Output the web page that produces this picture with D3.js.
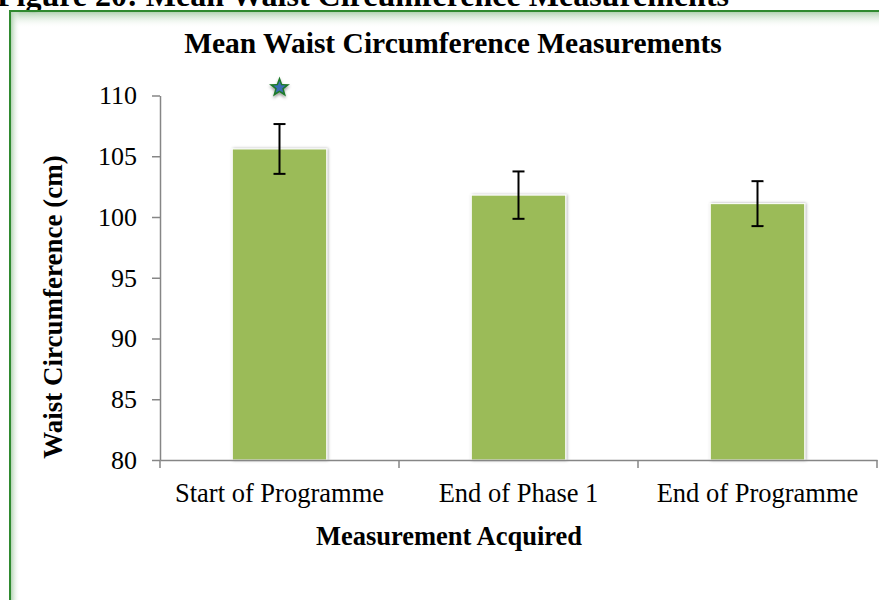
<!DOCTYPE html>
<html>
<head>
<meta charset="utf-8">
<script src="https://cdn.jsdelivr.net/npm/d3@7"></script>
<style>
  body { margin: 0; background: #fff; }
  svg { display: block; font-family: "Liberation Serif", "Times New Roman", serif; }
</style>
</head>
<body>
<svg></svg>
<script>
// chart data
let categories = ['Start of Programme', 'End of Phase 1', 'End of Programme'];
let means = [105.6, 101.8, 101.1];
let errors = [2.05, 1.95, 1.85];
let yTicks = [80, 85, 90, 95, 100, 105, 110];
let starAt = [{cat: 'Start of Programme', value: 110.65}]; // significance marker

let w = 879;
let h = 600;
let plotLeft = 160, plotRight = 877, plotTop = 95.5, plotBottom = 460;
let serif = '"Liberation Serif", "Times New Roman", serif';
let svg = d3.select('svg').attr('width', w).attr('height', h);

let defs = svg.append('defs');
let shadow = defs.append('filter').attr('id', 'barShadow')
  .attr('x', '-20%').attr('y', '-10%').attr('width', '140%').attr('height', '120%');
shadow.append('feDropShadow').attr('dx', 1).attr('dy', 0).attr('stdDeviation', 1.8)
  .attr('flood-color', '#000').attr('flood-opacity', 0.35);
let starShadow = defs.append('filter').attr('id', 'starShadow')
  .attr('x', '-50%').attr('y', '-50%').attr('width', '200%').attr('height', '200%');
starShadow.append('feDropShadow').attr('dx', 0).attr('dy', 2).attr('stdDeviation', 1.5)
  .attr('flood-color', '#000').attr('flood-opacity', 0.4);
let glowTop = defs.append('linearGradient').attr('id', 'glowTop').attr('x1', 0).attr('y1', 0).attr('x2', 0).attr('y2', 1);
glowTop.append('stop').attr('offset', '0%').attr('stop-color', '#b3d3b3');
glowTop.append('stop').attr('offset', '100%').attr('stop-color', '#fff').attr('stop-opacity', 0);
let glowLeft = defs.append('linearGradient').attr('id', 'glowLeft').attr('x1', 0).attr('y1', 0).attr('x2', 1).attr('y2', 0);
glowLeft.append('stop').attr('offset', '0%').attr('stop-color', '#b3d3b3');
glowLeft.append('stop').attr('offset', '100%').attr('stop-color', '#fff').attr('stop-opacity', 0);

// figure caption, cut off at top of page (as in the source)
svg.append('text')
  .attr('x', -3).attr('y', 6)
  .attr('font-size', 32).attr('font-weight', 'bold')
  .text('Figure 20: Mean Waist Circumference Measurements');

// frame with inner glow
svg.append('rect').attr('x', 11).attr('y', 12).attr('width', w - 11).attr('height', 16).attr('fill', 'url(#glowTop)');
svg.append('rect').attr('x', 11).attr('y', 12).attr('width', 9).attr('height', h - 12).attr('fill', 'url(#glowLeft)');
svg.append('path')
  .attr('d', 'M10,' + h + ' L10,11 L' + w + ',11')
  .attr('fill', 'none').attr('stroke', '#2f8a2f').attr('stroke-width', 2);

// title
svg.append('text')
  .attr('x', 453).attr('y', 53)
  .attr('text-anchor', 'middle')
  .attr('font-size', 29.5).attr('font-weight', 'bold')
  .text('Mean Waist Circumference Measurements');

// scales
let xScale = d3.scaleBand().domain(categories).range([plotLeft, plotRight]).padding(0);
let yScale = d3.scaleLinear().domain([80, 110]).range([plotBottom, plotTop]);
let barW = xScale.step() * 0.395;

// y axis
let yAxis = d3.axisLeft(yScale).tickValues(yTicks).tickSize(8).tickPadding(15).tickSizeOuter(0);
let gy = svg.append('g').attr('transform', 'translate(' + plotLeft + ',0)').call(yAxis)
  .attr('font-family', serif).attr('font-size', 26);
gy.select('.domain').attr('stroke', '#868686').attr('stroke-width', 1.5);
gy.selectAll('.tick line').attr('stroke', '#868686').attr('stroke-width', 1.5);
gy.selectAll('.tick text').attr('fill', '#000');

// bars
svg.selectAll('rect.bar')
  .data(categories)
  .enter()
  .append('rect')
  .attr('class', 'bar')
  .attr('x', (d) => xScale(d) + xScale.bandwidth() / 2 - barW / 2)
  .attr('y', (d, i) => yScale(means[i]))
  .attr('width', barW)
  .attr('height', (d, i) => plotBottom - yScale(means[i]))
  .attr('fill', '#9bbb59')
  .attr('stroke', '#fff')
  .attr('stroke-width', 1)
  .attr('filter', 'url(#barShadow)');

// x axis
let xAxis = d3.axisBottom(xScale).tickSize(0).tickSizeOuter(0);
let gx = svg.append('g').attr('transform', 'translate(0,' + plotBottom + ')').call(xAxis)
  .attr('font-family', serif).attr('font-size', 26.5);
gx.select('.domain').attr('stroke', '#868686').attr('stroke-width', 1.5);
gx.selectAll('.tick text')
  .attr('fill', '#000')
  .attr('dy', 0).attr('y', 42);
// category boundary ticks
let bounds = categories.map((c) => xScale(c)).concat([plotRight]);
gx.selectAll('line.bound')
  .data(bounds)
  .enter()
  .append('line')
  .attr('class', 'bound')
  .attr('x1', (d) => d).attr('x2', (d) => d)
  .attr('y1', 0).attr('y2', 8)
  .attr('stroke', '#868686').attr('stroke-width', 1.5);

// error bars
let eb = svg.selectAll('g.err')
  .data(categories)
  .enter()
  .append('g')
  .attr('class', 'err')
  .attr('stroke', '#000')
  .attr('stroke-width', 2);
let cx = (d) => xScale(d) + xScale.bandwidth() / 2;
eb.append('line')
  .attr('x1', cx).attr('x2', cx)
  .attr('y1', (d, i) => yScale(means[i] + errors[i]))
  .attr('y2', (d, i) => yScale(means[i] - errors[i]));
eb.append('line')
  .attr('x1', (d) => cx(d) - 6).attr('x2', (d) => cx(d) + 6)
  .attr('y1', (d, i) => yScale(means[i] + errors[i]))
  .attr('y2', (d, i) => yScale(means[i] + errors[i]));
eb.append('line')
  .attr('x1', (d) => cx(d) - 6).attr('x2', (d) => cx(d) + 6)
  .attr('y1', (d, i) => yScale(means[i] - errors[i]))
  .attr('y2', (d, i) => yScale(means[i] - errors[i]));

// star marker
let starPath = (r1, r2) => {
  let pts = [];
  for (let k = 0; k < 10; k++) {
    let r = k % 2 === 0 ? r1 : r2;
    let a = -Math.PI / 2 + k * Math.PI / 5;
    pts.push([r * Math.cos(a), r * Math.sin(a)]);
  }
  return 'M' + pts.map((p) => p.join(',')).join('L') + 'Z';
};
let stars = svg.selectAll('g.star')
  .data(starAt)
  .enter()
  .append('g')
  .attr('class', 'star')
  .attr('transform', (d) => 'translate(' + cx(d.cat) + ',' + yScale(d.value) + ')')
  .attr('filter', 'url(#starShadow)');
stars.append('path').attr('d', starPath(11, 4.6)).attr('fill', '#1f7a2a');
stars.append('path').attr('d', starPath(6.5, 2.8)).attr('fill', '#3b6db3');

// axis titles
svg.append('text')
  .attr('transform', 'translate(62,307) rotate(-90)')
  .attr('text-anchor', 'middle')
  .attr('font-size', 27).attr('font-weight', 'bold')
  .text('Waist Circumference (cm)');
svg.append('text')
  .attr('x', 449).attr('y', 545)
  .attr('text-anchor', 'middle')
  .attr('font-size', 26.5).attr('font-weight', 'bold')
  .text('Measurement Acquired');
</script>
</body>
</html>
